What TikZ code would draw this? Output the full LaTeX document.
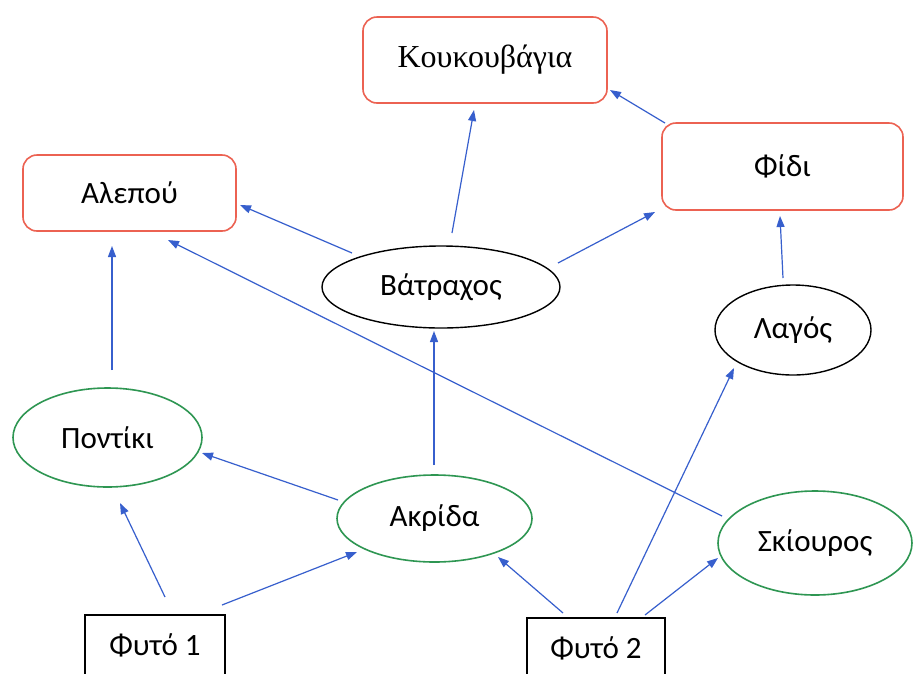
\documentclass[tikz,border=0pt]{standalone}
\usepackage{fontspec}
\setmainfont{Carlito}
\newfontfamily\serifgr{Liberation Serif}
\usetikzlibrary{arrows.meta,shapes.geometric}
\definecolor{boxred}{RGB}{236,98,82}
\definecolor{ellgreen}{RGB}{46,150,82}
\definecolor{arrblue}{RGB}{55,95,205}
\tikzset{
  redbox/.style={draw=boxred,line width=1.6pt,rounded corners=14pt,inner sep=0pt,font=\fontsize{31}{36}\selectfont},
  blackell/.style={ellipse,draw=black,line width=1.4pt,inner sep=0pt,font=\fontsize{31}{36}\selectfont},
  greenell/.style={ellipse,draw=ellgreen,line width=1.6pt,inner sep=0pt,font=\fontsize{31}{36}\selectfont},
  plantbox/.style={draw=black,line width=1.5pt,inner sep=0pt,minimum height=60pt,font=\fontsize{31}{36}\selectfont},
  arr/.style={draw=arrblue,line width=1.2pt,-{Triangle[length=11pt,width=8pt]}},
}
\begin{document}
\begin{tikzpicture}[x=1pt,y=-1pt]
\clip (0,0) rectangle (922,673);
\fill[white] (0,0) rectangle (922,673);
% red boxes
\node[redbox,minimum width=244pt,minimum height=86pt] (kouk) at (485,60) {\serifgr\fontsize{32}{36}\selectfont Κουκουβάγια};
\node[redbox,minimum width=213pt,minimum height=76pt] (alep) at (129.5,193) {Αλεπού};
\node[redbox,minimum width=241pt,minimum height=87pt] (fidi) at (782.5,166.5) {Φίδι};
% black ellipses
\node[blackell,minimum width=238pt,minimum height=82pt] (vatr) at (441,287) {Βάτραχος};
\node[blackell,minimum width=156pt,minimum height=90pt] (lagos) at (793,330) {Λαγός};
% green ellipses
\node[greenell,minimum width=189pt,minimum height=99pt] (pont) at (107.5,437.5) {Ποντίκι};
\node[greenell,minimum width=195pt,minimum height=87pt] (akr) at (434.5,518.5) {Ακρίδα};
\node[greenell,minimum width=194pt,minimum height=104pt] (ski) at (815,543) {Σκίουρος};
% plants
\node[plantbox,minimum width=140pt] (fyto1) at (155,645) {Φυτό 1};
\node[plantbox,minimum width=138pt] (fyto2) at (596,648) {Φυτό 2};
% arrows
\draw[arr] ([shift={(4.5pt,67.5pt)}]pont.center) -- ([shift={(-17.5pt,-53pt)}]alep.center);
\draw[arr] ([shift={(-89pt,34pt)}]vatr.center) -- ([shift={(110.5pt,-12pt)}]alep.center);
\draw[arr] ([shift={(11pt,54pt)}]vatr.center) -- ([shift={(-11pt,-50pt)}]kouk.center);
\draw[arr] ([shift={(117pt,24pt)}]vatr.center) -- ([shift={(-127.5pt,-45.5pt)}]fidi.center);
\draw[arr] ([shift={(-117.5pt,43.5pt)}]fidi.center) -- ([shift={(125pt,-30pt)}]kouk.center);
\draw[arr] ([shift={(-10pt,52pt)}]lagos.center) -- ([shift={(-2.5pt,-49.5pt)}]fidi.center);
\draw[arr] ([shift={(-93pt,27pt)}]ski.center) -- ([shift={(38.5pt,-47pt)}]alep.center);
\draw[arr] ([shift={(-0.5pt,53.5pt)}]akr.center) -- ([shift={(-7pt,-44pt)}]vatr.center);
\draw[arr] ([shift={(-96.5pt,18.5pt)}]akr.center) -- ([shift={(94.5pt,-15.5pt)}]pont.center);
\draw[arr] ([shift={(10pt,48pt)}]fyto1.center) -- ([shift={(12.5pt,-65.5pt)}]pont.center);
\draw[arr] ([shift={(67pt,40pt)}]fyto1.center) -- ([shift={(-77.5pt,-33.5pt)}]akr.center);
\draw[arr] ([shift={(-33pt,35pt)}]fyto2.center) -- ([shift={(63.5pt,-38.5pt)}]akr.center);
\draw[arr] ([shift={(21pt,35pt)}]fyto2.center) -- ([shift={(-59pt,-38pt)}]lagos.center);
\draw[arr] ([shift={(49pt,33pt)}]fyto2.center) -- ([shift={(-97pt,-15pt)}]ski.center);
\end{tikzpicture}
\end{document}
